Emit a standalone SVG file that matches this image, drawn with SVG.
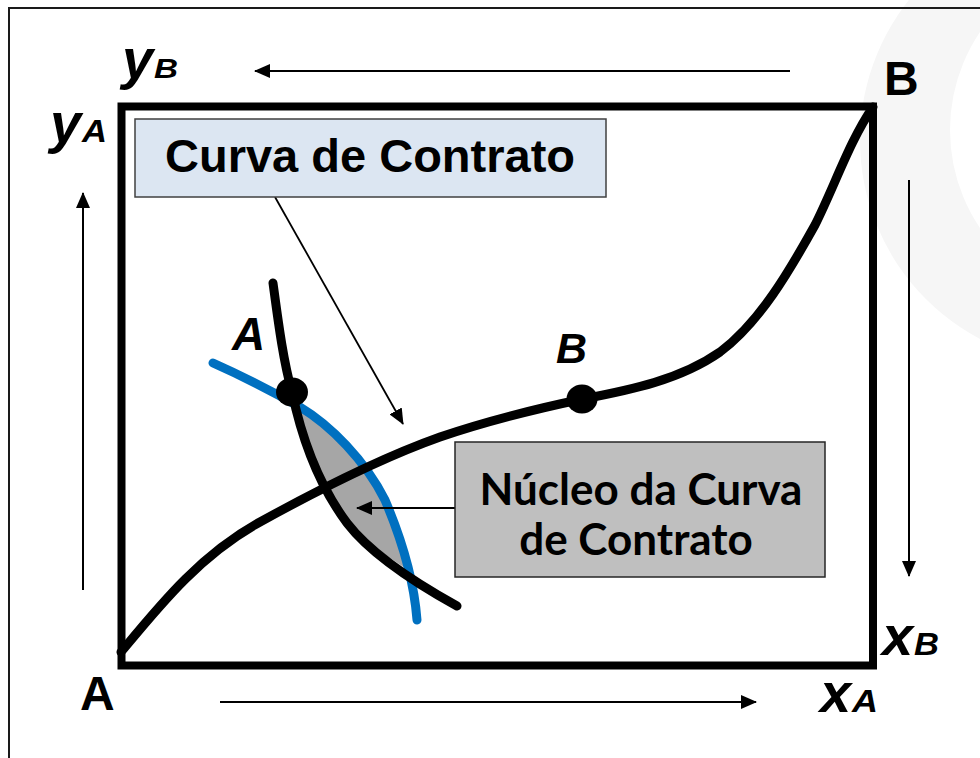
<svg xmlns="http://www.w3.org/2000/svg" width="980" height="758" viewBox="0 0 980 758">
<style>
.lbl{font-family:"Liberation Sans",Arial,sans-serif;font-weight:bold;fill:#000}
.it{font-style:italic}
.thin{stroke:#000;stroke-width:2;fill:none}
.curve{fill:none;stroke-width:9;stroke-linecap:round;stroke-linejoin:round}
.nuc{font-family:Lato,"Open Sans",sans-serif;font-weight:bold;font-size:44px;fill:#000}
</style>
<defs>
<marker id="ah" markerUnits="userSpaceOnUse" markerWidth="16" markerHeight="14" refX="15" refY="7" orient="auto">
<path d="M0,0 L16,7 L0,14 Z" fill="#000"/>
</marker>
</defs>
<rect width="980" height="758" fill="#fff"/>
<g id="watermark">
<path d="M1085,-85 A225,225 0 1 0 1085,365 A225,225 0 1 0 1085,-85 Z M1125,-45 A175,175 0 1 1 1125,305 A175,175 0 1 1 1125,-45 Z" fill="#f6f6f6" fill-rule="evenodd"/>
</g>
<g id="frame">
<path d="M9,758 L9,8 L980,8" stroke="#1a1a1a" stroke-width="2" fill="none"/>
<rect x="121.5" y="106.5" width="751.5" height="559" fill="none" stroke="#000" stroke-width="8"/>
</g>
<g id="lens">
<path d="M296,402 C325,420 362,458 383,497 C397,527 402,548 405,568 C385,555 365,540 347,523 C320,490 305,450 296,402 Z" fill="#a6a6a6"/>
</g>
<g id="blue-curve">
<path class="curve" stroke="#0070c0" d="M213,363 C240,375 270,390 300,407 C330,425 365,460 385,500 C402,540 414,580 417,620"/>
</g>
<g id="indiff-A">
<path class="curve" stroke="#000" d="M273,283 C278,320 283,360 292,392 C300,430 315,480 347,523 C370,553 410,580 457,606"/>
</g>
<g id="contract-curve">
<path class="curve" stroke="#000" d="M121,652 C160,605 200,555 260,522 C318,490 378,459 440,437 C490,420 540,408 583,399 C630,390 680,380 720,352 C760,322 790,270 815,225 C835,185 850,140 873,107"/>
</g>
<g id="point-A">
<ellipse cx="292" cy="392" rx="16" ry="14.5" fill="#000"/>
<text class="lbl it" x="232" y="350" font-size="46">A</text>
</g>
<g id="point-B">
<ellipse cx="582" cy="399" rx="15.5" ry="14.5" fill="#000"/>
<text class="lbl it" x="556" y="363" font-size="43">B</text>
</g>
<g id="connectors">
<line class="thin" x1="790" y1="71" x2="255" y2="71" marker-end="url(#ah)"/>
<line class="thin" x1="83" y1="590" x2="83" y2="193" marker-end="url(#ah)"/>
<line class="thin" x1="909" y1="180" x2="909" y2="576" marker-end="url(#ah)"/>
<line class="thin" x1="220" y1="702" x2="756" y2="702" marker-end="url(#ah)"/>
<line x1="275" y1="197" x2="403" y2="424" stroke="#000" stroke-width="1.8" marker-end="url(#ah)"/>
<line x1="455" y1="508" x2="357" y2="508" stroke="#000" stroke-width="1.8" marker-end="url(#ah)"/>
</g>
<g id="box-curva">
<rect x="135" y="119" width="471" height="78" fill="#dce6f2" stroke="#404040" stroke-width="1.5"/>
<text class="lbl" x="370" y="172" font-size="47" text-anchor="middle">Curva de Contrato</text>
</g>
<g id="box-nucleo">
<rect x="455" y="442" width="370" height="135" fill="#bfbfbf" stroke="#262626" stroke-width="1.5"/>
<text class="nuc" x="641" y="505" text-anchor="middle">Núcleo da Curva</text>
<text class="nuc" x="636" y="555" text-anchor="middle">de Contrato</text>
</g>
<g id="axis-labels">
<text class="lbl" x="884" y="95" font-size="48">B</text>
<text class="lbl" x="80" y="710" font-size="48">A</text>
<text class="lbl it" x="122" y="78" font-size="56">y</text>
<text class="lbl it" x="154" y="78" font-size="28" textLength="24" lengthAdjust="spacingAndGlyphs">B</text>
<text class="lbl it" x="50" y="142" font-size="56">y</text>
<text class="lbl it" x="82" y="142" font-size="32" textLength="25" lengthAdjust="spacingAndGlyphs">A</text>
<text class="lbl it" x="882" y="655" font-size="56">x</text>
<text class="lbl it" x="914" y="655" font-size="31" textLength="25" lengthAdjust="spacingAndGlyphs">B</text>
<text class="lbl it" x="820" y="712" font-size="56">x</text>
<text class="lbl it" x="852" y="712" font-size="31" textLength="26" lengthAdjust="spacingAndGlyphs">A</text>
</g>
</svg>
